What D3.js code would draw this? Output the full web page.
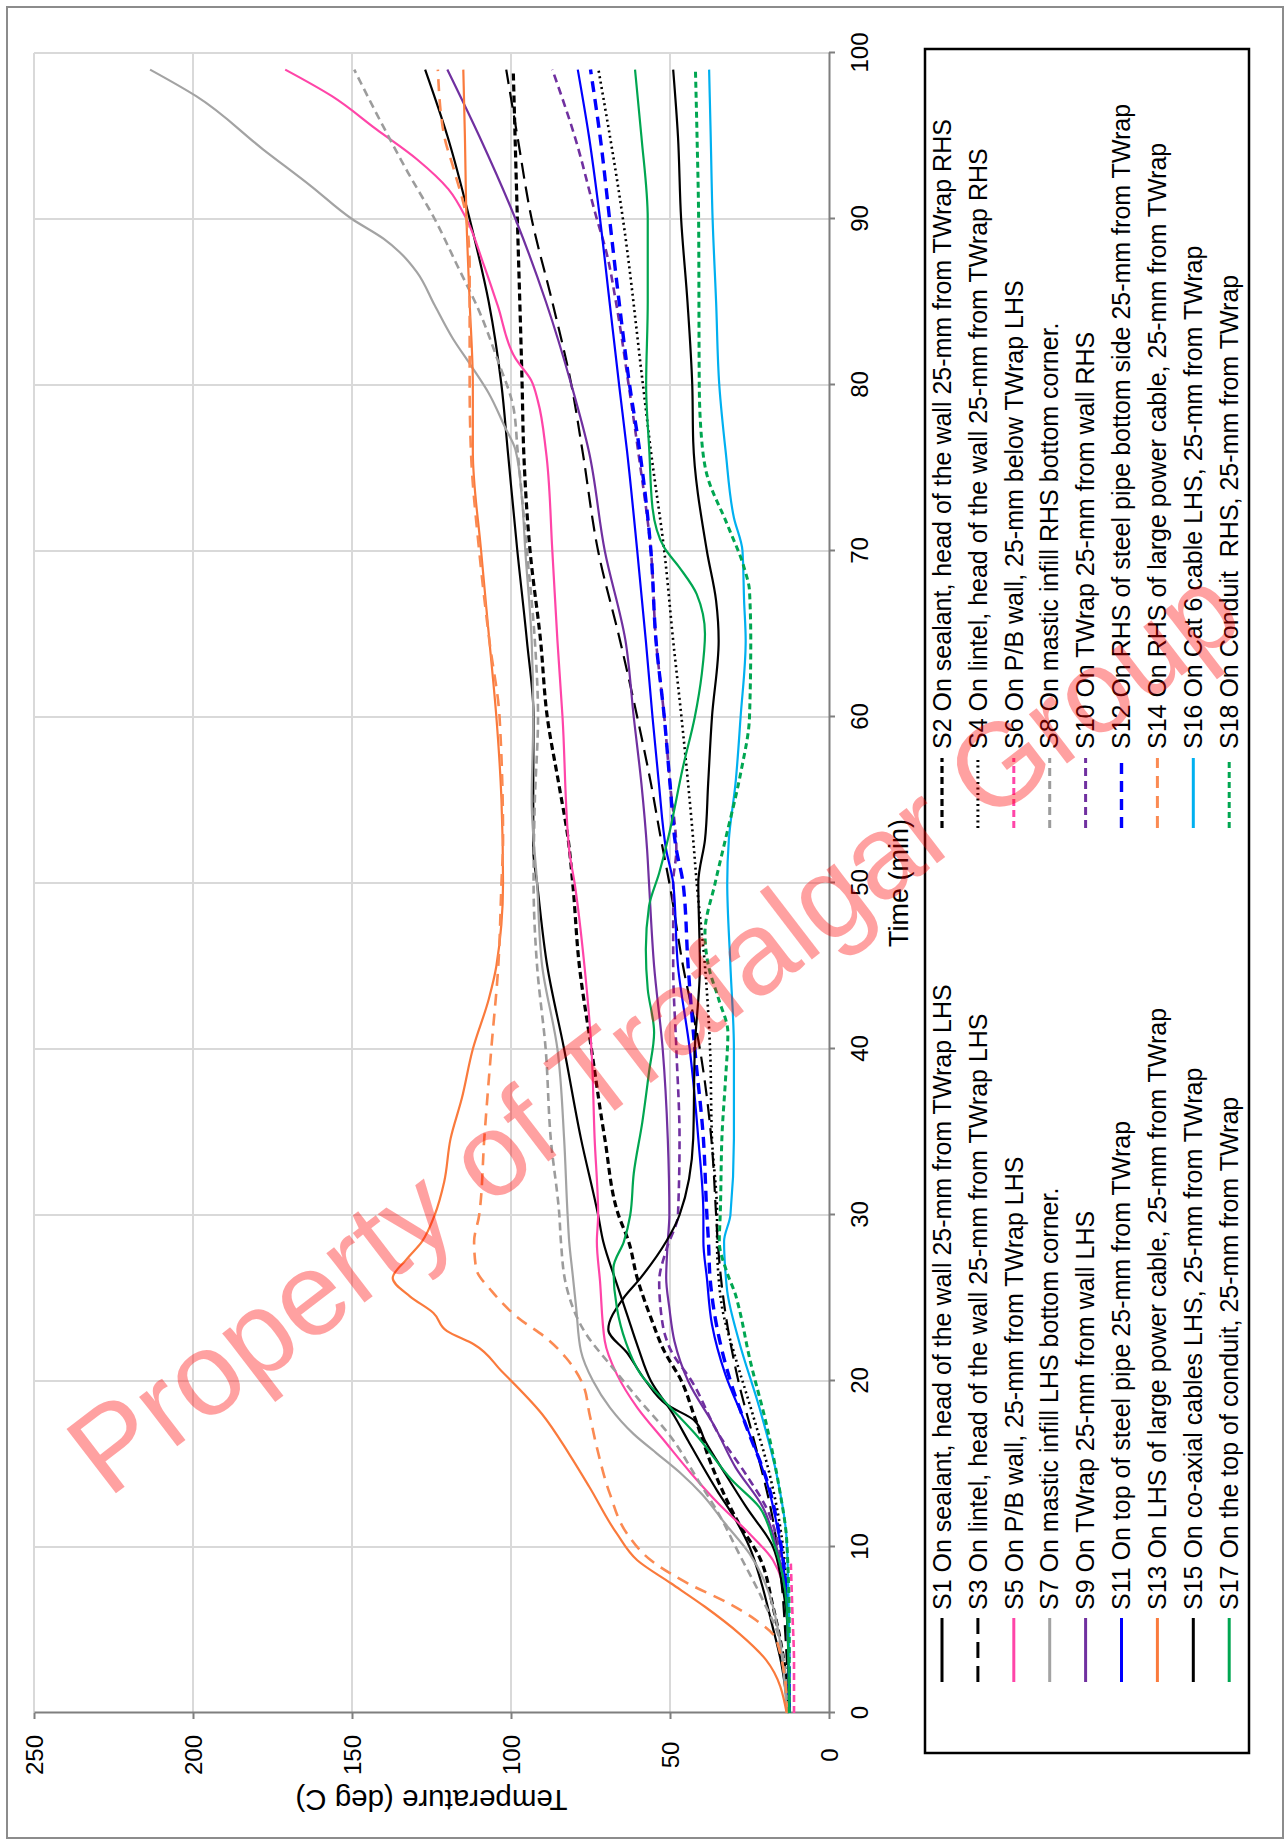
<!DOCTYPE html>
<html>
<head>
<meta charset="utf-8">
<script src="https://cdn.jsdelivr.net/npm/d3@7"></script>
<style>
  html, body { margin: 0; padding: 0; background: #fff; }
  svg { display: block; font-family: "Liberation Sans", Arial, sans-serif; }
</style>
</head>
<body>
<svg id="chart" width="1287" height="1843"></svg>
<script>
// Sensor temperature readings: [time (min), temperature (deg C)]
const s1 = [[0,12.8],[3,15],[5.4,18],[8,21.5],[10,25],[12,30.5],[13.4,35.2],[16.4,44.3],[18,49],[20,56],[22,60],[24,63.5],[26,67],[28.4,71],[30,72.6],[34.6,78],[40,83.3],[45,88.6],[50,91.8],[52,93],[56,93],[60,92.9],[64.6,95],[70,98],[76,101],[80,103],[85,107],[90,113],[95,120],[99,127]];
const s2 = [[0,12.5],[3.4,14.4],[6.4,17.6],[9.4,21.9],[11.4,28.3],[14.4,35.8],[17.8,42.2],[20,46.4],[21.8,51.8],[23.8,56],[26.2,60.3],[28.4,63],[30,66.2],[34.6,70.5],[40,74.7],[45,78.5],[50,80.6],[52.6,82],[56,85],[60,88.6],[64.6,90.7],[70,94],[76,96],[80,96.5],[90,98],[99,99.3]];
const s3 = [[0,12.5],[4,13.5],[8,15],[12,18],[16,23],[20,28.5],[24,32.5],[28.4,35],[30,35.5],[34.6,37],[40,40.6],[45,45.9],[50,50.2],[52.6,52.8],[56,56],[60,60.3],[64.6,65.7],[70,72.6],[76,77.5],[80,81],[85,87],[90,93.5],[95,98],[99,101.5]];
const s4 = [[0,12.5],[4,12.8],[8,13.5],[11.4,15.5],[14.4,18.7],[18,24],[21.4,29.4],[24.4,33.6],[26.2,34.7],[28.4,35.2],[30,35.2],[34.6,36.8],[40,37.4],[45,39],[50,41.6],[52.6,42.7],[60,46.4],[64.6,49],[70,51.8],[76,56],[80,58.5],[90,64.8],[99,72.5]];
const s5 = [[0,12.5],[6.4,13.3],[9.2,17.6],[10.8,25],[12.6,34.7],[14.4,43.2],[16.4,51.8],[18.4,60.3],[20.4,66.7],[22.4,70.5],[26,72],[28.4,73],[30,72.6],[34.6,73.7],[40,74.7],[45,76.9],[50,80],[52,81.7],[60,83.8],[64.6,85.4],[70,87],[76,89],[79,91.5],[80.3,93.7],[81.6,98.6],[84.8,104.2],[87.2,108.5],[90,114],[91.8,119.7],[93.6,129.6],[95.4,142.3],[97.4,156.3],[99,171]];
const s6 = [[0,11],[3,11],[6,11.5],[9,12]];
const s7 = [[0,13.3],[6.4,17.6],[9.6,25],[11.4,32.6],[13.2,40],[14.4,46.4],[15.6,53.9],[16.8,61.4],[18.4,68.9],[20,74.2],[21.8,78],[24.4,79.5],[26.4,80.6],[28.4,81.7],[30,82.2],[34.6,83.3],[40,85.4],[45,90.2],[50,91.8],[55,93.5],[60,93],[64.6,93.5],[70,95.5],[73,96.5],[76.1,98.6],[77.5,102],[79.5,107],[81.2,112.7],[82.8,118.3],[84.8,124],[86.8,129.6],[88,135],[88.8,140],[90,150],[92,163],[94.2,178],[97.4,199],[99,213.5]];
const s8 = [[0,12.8],[4.4,15.5],[6.8,20.8],[9.6,28.3],[12,34.7],[14,41.1],[16.6,49.6],[19,60.3],[21,68.9],[22.8,76.3],[25.8,82.7],[28.4,84.3],[30,84.8],[34.6,87.5],[40,89.1],[45,91.8],[50,92.9],[55,92.5],[60,91.5],[64.6,92.5],[70,95],[76,97.9],[78.7,99.3],[81.5,104.2],[84.4,109.9],[87.2,116.9],[90,124],[92.8,132.4],[95.8,140.8],[99,149.3]];
const s9 = [[0,12.5],[5,13],[10,16.5],[12.4,20.8],[14.8,29.4],[17.2,35.8],[20,44.3],[22.4,48.6],[24.4,50.2],[26.2,51.2],[28.4,50.7],[30,50.2],[34.6,50.7],[40,52.3],[45,55],[50,56.6],[52,57.2],[56,59],[60,61.4],[64.6,64],[70,70.5],[76,75.5],[80,81],[85,89],[90,98.6],[95,110],[99,120]];
const s10 = [[0,12.5],[5,12.8],[9.8,15.5],[12.4,19.8],[14.4,26.2],[16.8,34.7],[20,43.2],[21.8,49.6],[23.4,52.3],[26,53.4],[28,51],[30,47.5],[34.6,47],[40,48],[45,49],[50,49],[52,48],[56,50],[60,51.8],[64.6,54.4],[70,56],[76,60],[80,63],[85,67],[88,70],[90,73],[95,80],[99,87]];
const s11 = [[0,12.5],[5,12.8],[10.4,15.5],[14,19.7],[17.4,26.2],[20.4,32.6],[23.4,36.8],[26.2,38.4],[28.4,39.5],[30,39.5],[34.6,41.1],[40,43.8],[45,47.5],[50,49],[52,51.2],[56,53.5],[60,55.5],[64.6,57.6],[70,60.3],[76,63.5],[80,66],[85,69],[90,72],[95,75.5],[99,79]];
const s12 = [[0,12.5],[5,12.8],[10,15],[14,19.5],[17,25.5],[20,31],[23,35],[26.2,37.4],[28.4,37.9],[30,38.4],[34.6,39.5],[40,42.2],[45,44.3],[50,45.9],[52,48],[56,50],[60,51.8],[64.6,54.4],[70,56],[76,59.5],[80,62.7],[85,66],[90,69],[95,72],[99,75]];
const s13 = [[0,13.3],[3.2,19.8],[4.8,28.3],[6.4,39],[7.8,49.6],[9.2,60.3],[10.8,66.7],[13.6,75.3],[15.6,81.7],[18,90.2],[20.6,103],[22.2,111.6],[23,120.1],[24.1,124.4],[25.1,131.8],[26.2,137.2],[27.3,133],[28.4,128],[30,124],[32,121],[34.6,119],[37,115.5],[40,112],[43,107],[45,104.6],[50,102.5],[55,103],[60,104.6],[64.6,106.8],[70,109.4],[76,112],[80,112],[85,113],[90,114],[95,114.5],[99,115]];
const s14 = [[0,12.8],[4.4,16.5],[5.6,23],[6.6,31.5],[7.8,44.3],[9.2,56],[10.8,63.5],[13.2,68.9],[16,73],[18,75.3],[19.8,77.4],[21.4,82.7],[22.6,89],[23.8,97.7],[25.4,106],[26.8,111],[28.4,111.6],[30,110],[34.6,108.4],[40,106.2],[45,104],[50,103],[52.6,102.5],[60,103.6],[64.6,106.8],[70,110],[76,112.6],[80,113],[87,113],[90,114],[93,118],[95,121],[99,123]];
const s15 = [[0,12.5],[5,13],[8,15],[10,17.6],[12.4,26],[14.4,32.6],[16.4,39],[17.6,42.2],[18.6,51.2],[20,57.6],[21.7,63.5],[23.1,69.4],[25,64.6],[26.2,59.3],[28.4,51.2],[30,47],[34.6,42.7],[40,42.2],[45,40.6],[50,41.1],[52.6,39],[56,38],[60,36.8],[64.6,34.7],[67,35.5],[70,38.4],[76.6,42.7],[80,43],[85,44.5],[90,46.5],[95,47.5],[99,49]];
const s16 = [[0,12.5],[5,12.6],[10.4,13.3],[14.4,16.5],[18.4,21.9],[22.4,28.3],[25.4,32],[26.4,32.5],[28.4,33],[30,31],[34.6,29.9],[40,29.9],[45,31],[50,32],[52.6,31.5],[56,29.4],[60,27.8],[64.6,26.2],[67,26.7],[70,27.2],[72,29.9],[76,32.5],[80,34.5],[85,35.5],[90,36.6],[95,37.2],[99,37.7]];
const s17 = [[0,12.5],[6.4,13.3],[10.4,17.6],[12.4,21.9],[14,30.4],[16.6,41.1],[18.8,51.8],[20.4,59.2],[22.4,64],[24.4,66.7],[26.8,67.8],[28.4,64.5],[30,62.5],[32.5,61.4],[35.6,58.7],[38.6,56.6],[41,55],[43.6,57],[46,57.6],[48.6,56.6],[50.6,53.4],[52.6,50.7],[57,45.9],[60,42.2],[62.6,40],[65,39],[67.4,41.6],[69,47],[70.2,51.8],[72.6,55.5],[76,56.5],[80,57.5],[85,57],[90,57],[95,59],[99,61]];
const s18 = [[0,12.5],[5,12.5],[10.4,13.3],[13.4,15.5],[17.4,19.7],[21.4,25],[24.4,28.3],[25.2,29.4],[26.5,32],[28.4,34.5],[30,34.2],[35,33.6],[38,32.6],[41,31.8],[43,34.7],[45,37.9],[47,39],[50,35.8],[52.6,32.6],[56.6,27.8],[60,25],[64.6,24.6],[67.6,25],[69,26.7],[71.6,32],[74.6,38.4],[76.6,40],[80,40.8],[90,41],[95,41.5],[99,42]];

const seriesLabels = [
  "S1 On sealant, head of the wall 25-mm from TWrap LHS",
  "S2 On sealant, head of the wall 25-mm from TWrap RHS",
  "S3 On lintel, head of the wall 25-mm from TWrap LHS",
  "S4 On lintel, head of the wall 25-mm from TWrap RHS",
  "S5 On P/B wall, 25-mm from TWrap LHS",
  "S6 On P/B wall, 25-mm below TWrap LHS",
  "S7 On mastic infill LHS bottom corner.",
  "S8 On mastic infill RHS bottom corner.",
  "S9 On TWrap 25-mm from wall LHS",
  "S10 On TWrap 25-mm from wall RHS",
  "S11 On top of steel pipe 25-mm from TWrap",
  "S12 On RHS of steel pipe bottom side 25-mm from TWrap",
  "S13 On LHS of large power cable, 25-mm from TWrap",
  "S14 On RHS of large power cable, 25-mm from TWrap",
  "S15 On co-axial cables LHS, 25-mm from TWrap",
  "S16 On Cat 6 cable LHS, 25-mm from TWrap",
  "S17 On the top of conduit, 25-mm from TWrap",
  "S18 On Conduit  RHS, 25-mm from TWrap"
];
const seriesValues = [s1,s2,s3,s4,s5,s6,s7,s8,s9,s10,s11,s12,s13,s14,s15,s16,s17,s18];

const timeTicks = [0,10,20,30,40,50,60,70,80,90,100];
const tempTicks = [0,50,100,150,200,250];
const timeTitle = "Time (min)";
const tempTitle = "Temperature (deg C)";
const watermarkText = "Property of Trafalgar Group";

// Line styles per series: colour, width, dash pattern
const lineStyles = [
  {c:"#000000", w:2.2, d:null},
  {c:"#000000", w:3.2, d:"7,4"},
  {c:"#000000", w:2.2, d:"16,8"},
  {c:"#000000", w:2.6, d:"2,3.5"},
  {c:"#ff45a8", w:2.2, d:null},
  {c:"#ff45a8", w:2.6, d:"7,4"},
  {c:"#a3a3a3", w:2.2, d:null},
  {c:"#9c9c9c", w:2.6, d:"8,5"},
  {c:"#7030a0", w:2.2, d:null},
  {c:"#7030a0", w:2.6, d:"8,5"},
  {c:"#0000ff", w:2.2, d:null},
  {c:"#0000ff", w:3.4, d:"11,7"},
  {c:"#fa7a3c", w:2.2, d:null},
  {c:"#fb8a52", w:2.6, d:"12,8"},
  {c:"#000000", w:2.2, d:null},
  {c:"#00b0f0", w:2.2, d:null},
  {c:"#00a651", w:2.2, d:null},
  {c:"#00a651", w:3.0, d:"6,4"}
];

const svg = d3.select("#chart");

// page frame
svg.append("rect")
  .attr("x", 7).attr("y", 7).attr("width", 1276).attr("height", 1831)
  .attr("fill", "#fff").attr("stroke", "#8c8c8c").attr("stroke-width", 2);

// The whole chart is laid out in its usual orientation and turned a quarter turn.
const W = 1660, H = 795;
const g = svg.append("g").attr("transform", "translate(34,1713) rotate(-90)");

const x = d3.scaleLinear().domain([0, 100]).range([0, W]);
const y = d3.scaleLinear().domain([0, 250]).range([H, 0]);

// gridlines
g.append("g").selectAll("line").data(timeTicks.filter(t => t > 0)).join("line")
  .attr("x1", d => x(d)).attr("x2", d => x(d)).attr("y1", 0).attr("y2", H)
  .attr("stroke", "#d9d9d9").attr("stroke-width", 2);
g.append("g").selectAll("line").data(tempTicks.filter(t => t > 0)).join("line")
  .attr("x1", 0).attr("x2", W).attr("y1", d => y(d)).attr("y2", d => y(d))
  .attr("stroke", "#d9d9d9").attr("stroke-width", 2);

// axes
const xAxis = g.append("g").attr("transform", `translate(0,${H})`)
  .call(d3.axisBottom(x).tickValues(timeTicks).tickSize(6).tickSizeOuter(0));
const yAxis = g.append("g")
  .call(d3.axisLeft(y).tickValues(tempTicks).tickSize(6).tickSizeOuter(0));
[xAxis, yAxis].forEach(a => {
  a.select(".domain").attr("stroke", "#7f7f7f").attr("stroke-width", 2);
  a.selectAll(".tick line").attr("stroke", "#7f7f7f").attr("stroke-width", 2);
  a.selectAll(".tick text").attr("font-size", 24).attr("fill", "#000")
    .attr("font-family", "'Liberation Sans', Arial, sans-serif");
});
xAxis.selectAll(".tick text").attr("y", 31).attr("dy", "0.35em");
yAxis.selectAll(".tick text").attr("x", -42).attr("dy", "0.35em").attr("text-anchor", "middle");

// series lines
const line = d3.line().x(d => x(d[0])).y(d => y(d[1])).curve(d3.curveMonotoneX);
g.append("g").selectAll("path").data(seriesValues).join("path")
  .attr("d", d => line(d))
  .attr("fill", "none")
  .attr("stroke", (d, i) => lineStyles[i].c)
  .attr("stroke-width", (d, i) => lineStyles[i].w)
  .attr("stroke-dasharray", (d, i) => lineStyles[i].d)
  .attr("stroke-linejoin", "round");

// axis titles
g.append("text")
  .attr("x", W / 2).attr("y", 865).attr("dy", "0.35em")
  .attr("text-anchor", "middle").attr("font-size", 27).text(timeTitle);
g.append("text")
  .attr("transform", `translate(-87,${H / 2}) rotate(-90)`)
  .attr("dy", "0.35em").attr("text-anchor", "middle").attr("font-size", 29.5).text(tempTitle);

// legend
const legend = g.append("g");
legend.append("rect")
  .attr("x", -40).attr("y", 891).attr("width", 1704).attr("height", 324)
  .attr("fill", "#fff").attr("stroke", "#000").attr("stroke-width", 2.5);
const rowY = i => 908 + 35.9 * i;
const colX = [{a: 31, b: 95, t: 103}, {a: 885, b: 955, t: 964}];
seriesLabels.forEach((label, i) => {
  const col = colX[i % 2];
  const yy = rowY(Math.floor(i / 2));
  const st = lineStyles[i];
  legend.append("line")
    .attr("x1", col.a).attr("x2", col.b).attr("y1", yy).attr("y2", yy)
    .attr("stroke", st.c).attr("stroke-width", Math.max(st.w, 3))
    .attr("stroke-dasharray", st.d);
  legend.append("text")
    .attr("x", col.t).attr("y", yy).attr("dy", "0.35em")
    .attr("font-size", 25).attr("fill", "#000")
    .style("white-space", "pre")
    .text(label);
});

// watermark
svg.append("text")
  .attr("transform", "translate(678,1062) rotate(-37.5)")
  .attr("text-anchor", "middle")
  .attr("font-size", 118)
  .attr("fill", "rgba(255,0,0,0.37)")
  .text(watermarkText);
</script>
</body>
</html>
